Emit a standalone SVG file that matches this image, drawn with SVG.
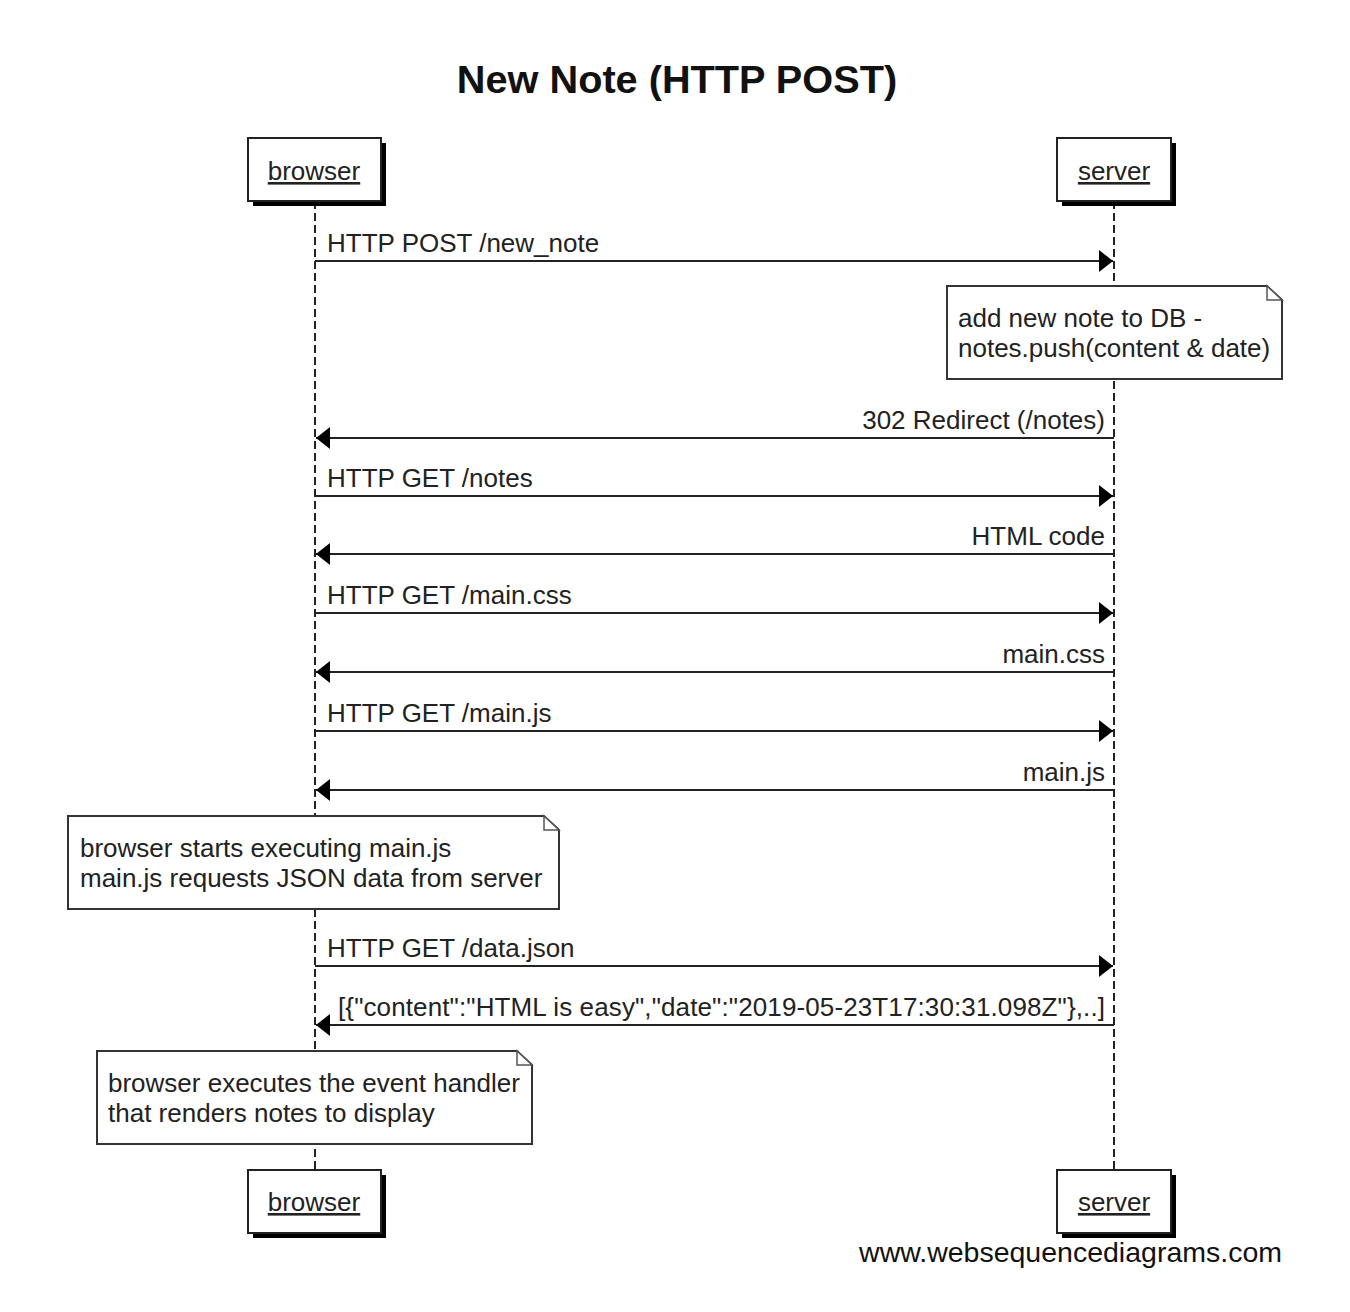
<svg xmlns="http://www.w3.org/2000/svg" width="1350" height="1312" viewBox="0 0 1350 1312">
<style>
text{font-family:"Liberation Sans",Arial,sans-serif;fill:#222}
.t{font-size:26px}
.r{text-anchor:end}
.title{font-size:39.7px;font-weight:bold;text-anchor:middle;fill:#111}
.pl{font-size:26px;text-anchor:middle;text-decoration:underline}
.box{fill:#fff;stroke:#222;stroke-width:2}
.shadow{fill:#000}
.life{stroke:#222;stroke-width:2;stroke-dasharray:8 4;fill:none}
.msg{stroke:#222;stroke-width:2;fill:none}
.note{fill:#fff;stroke:#333;stroke-width:2}
.fold{fill:#fff;stroke:#555;stroke-width:1.5}
.foot{font-size:28.5px;text-anchor:end;fill:#111}
</style>
<defs>
<marker id="ah" viewBox="0 0 14 22" refX="14" refY="11" markerWidth="14" markerHeight="22" markerUnits="userSpaceOnUse" orient="auto">
<path d="M0,0 L14,11 L0,22 Z" fill="#000"/>
</marker>
</defs>
<rect width="1350" height="1312" fill="#fff"/>
<text class="title" x="677" y="93">New Note (HTTP POST)</text>
<g id="lifelines">
<line class="life" x1="315" y1="201" x2="315" y2="1170"/>
<line class="life" x1="1114" y1="201" x2="1114" y2="1170"/>
</g>
<g id="connectors">
<line class="msg" x1="315" y1="261" x2="1113" y2="261" marker-end="url(#ah)"/>
<text class="t" x="327" y="252">HTTP POST /new_note</text>
<line class="msg" x1="1114" y1="438" x2="316" y2="438" marker-end="url(#ah)"/>
<text class="t r" x="1105" y="429">302 Redirect (/notes)</text>
<line class="msg" x1="315" y1="496" x2="1113" y2="496" marker-end="url(#ah)"/>
<text class="t" x="327" y="487">HTTP GET /notes</text>
<line class="msg" x1="1114" y1="554" x2="316" y2="554" marker-end="url(#ah)"/>
<text class="t r" x="1105" y="545">HTML code</text>
<line class="msg" x1="315" y1="613" x2="1113" y2="613" marker-end="url(#ah)"/>
<text class="t" x="327" y="604">HTTP GET /main.css</text>
<line class="msg" x1="1114" y1="672" x2="316" y2="672" marker-end="url(#ah)"/>
<text class="t r" x="1105" y="663">main.css</text>
<line class="msg" x1="315" y1="731" x2="1113" y2="731" marker-end="url(#ah)"/>
<text class="t" x="327" y="722">HTTP GET /main.js</text>
<line class="msg" x1="1114" y1="790" x2="316" y2="790" marker-end="url(#ah)"/>
<text class="t r" x="1105" y="781">main.js</text>
<line class="msg" x1="315" y1="966" x2="1113" y2="966" marker-end="url(#ah)"/>
<text class="t" x="327" y="957">HTTP GET /data.json</text>
<line class="msg" x1="1114" y1="1025" x2="316" y2="1025" marker-end="url(#ah)"/>
<text class="t r" x="1105" y="1016" textLength="767" lengthAdjust="spacing">[{"content":"HTML is easy","date":"2019-05-23T17:30:31.098Z"},..]</text>
</g>
<g id="browser-top">
<rect class="shadow" x="253" y="143" width="133" height="63"/>
<rect class="box" x="248" y="138" width="133" height="63"/>
<text class="pl" x="314" y="180">browser</text>
</g>
<g id="server-top">
<rect class="shadow" x="1062" y="143" width="114" height="63"/>
<rect class="box" x="1057" y="138" width="114" height="63"/>
<text class="pl" x="1114" y="180">server</text>
</g>
<g id="note-db">
<path class="note" d="M947,286 H1267 L1282,300 V379 H947 Z"/>
<path class="fold" d="M1267,286 V300 H1282 Z"/>
<text class="t" x="958" y="327">add new note to DB -</text>
<text class="t" x="958" y="357">notes.push(content &amp; date)</text>
</g>
<g id="note-mainjs">
<path class="note" d="M68,816 H544 L559,830 V909 H68 Z"/>
<path class="fold" d="M544,816 V830 H559 Z"/>
<text class="t" x="80" y="857">browser starts executing main.js</text>
<text class="t" x="80" y="887">main.js requests JSON data from server</text>
</g>
<g id="note-render">
<path class="note" d="M97,1051 H517 L532,1065 V1144 H97 Z"/>
<path class="fold" d="M517,1051 V1065 H532 Z"/>
<text class="t" x="108" y="1092">browser executes the event handler</text>
<text class="t" x="108" y="1122">that renders notes to display</text>
</g>
<g id="browser-bottom">
<rect class="shadow" x="253" y="1175" width="133" height="63"/>
<rect class="box" x="248" y="1170" width="133" height="63"/>
<text class="pl" x="314" y="1211">browser</text>
</g>
<g id="server-bottom">
<rect class="shadow" x="1062" y="1175" width="114" height="63"/>
<rect class="box" x="1057" y="1170" width="114" height="63"/>
<text class="pl" x="1114" y="1211">server</text>
</g>
<text class="foot" x="1282" y="1262">www.websequencediagrams.com</text>
</svg>
